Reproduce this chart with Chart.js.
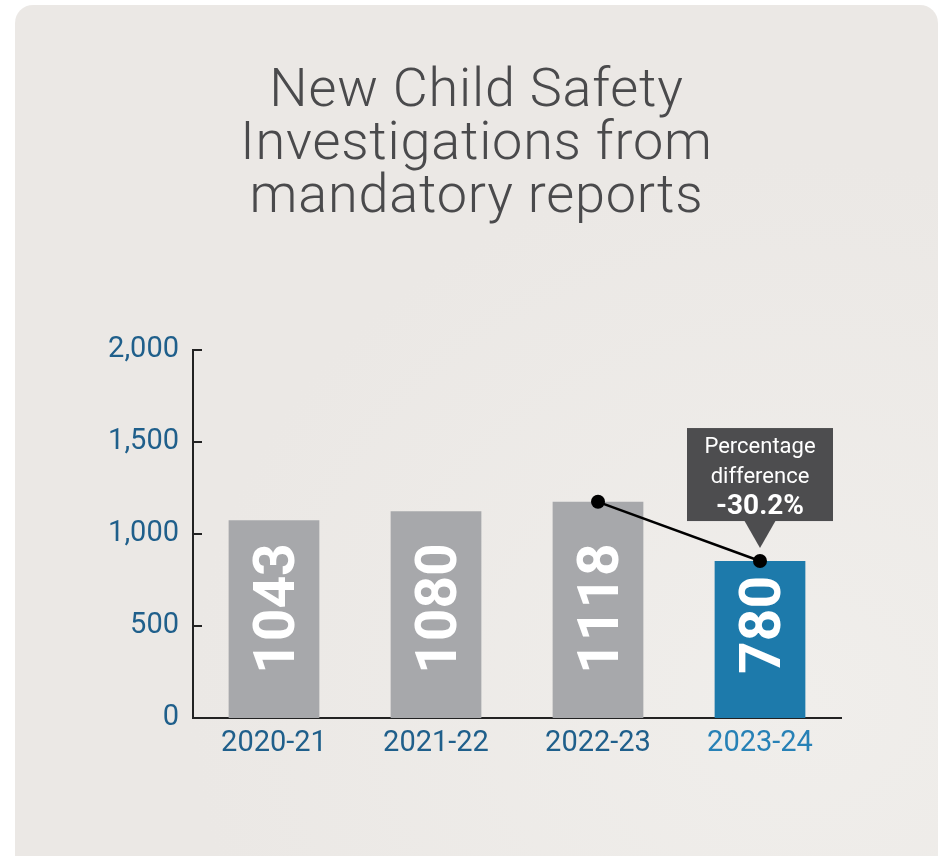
<!DOCTYPE html>
<html>
<head>
<meta charset="utf-8">
<script src="https://cdn.jsdelivr.net/npm/chart.js@4"></script>
<style>
  html, body { margin: 0; padding: 0; background: #ffffff; }
  #wrap { position: relative; width: 940px; height: 856px; overflow: hidden; }
  #panel {
    position: absolute; left: 15px; top: 5px; width: 923px; height: 870px;
    border-radius: 18px;
    background: radial-gradient(ellipse at 85% 80%, #f0eeeb 0%, #ebe8e5 55%);
  }
  #title {
    position: absolute; left: 15px; top: 61px; width: 923px;
    text-align: center; font-family: Roboto, sans-serif; font-weight: 300;
    font-size: 54px; line-height: 53px; color: #4a4a4c; letter-spacing: 0.8px;
  }
  #chart { position: absolute; left: 0; top: 0; }
</style>
</head>
<body>
<div id="wrap">
  <div id="panel"></div>
  <div id="title">New Child Safety<br>Investigations from<br>mandatory reports</div>
  <canvas id="chart" width="940" height="856"></canvas>
</div>
<script>
// chart values
var categories = ['2020-21', '2021-22', '2022-23', '2023-24'];
var barHeights = [1075, 1124, 1175, 853];      // heights as drawn in the picture
var barLabels = ['1043', '1080', '1118', '780']; // numbers printed on the bars
var changeLine = [null, null, 1175, 853];
var calloutLines = ['Percentage', 'difference', '-30.2%'];
var yMax = 2000;
var yStep = 500;

var grey = '#a7a8ab';
var blue = '#1d7aab';
var axisBlue = '#1f5f8b';

// white numbers written up the bars
var barLabelPlugin = {
    id: 'barLabels',
    afterDatasetsDraw: function (chart) {
        var ctx = chart.ctx;
        var meta = chart.getDatasetMeta(0);
        ctx.save();
        ctx.fillStyle = '#ffffff';
        ctx.font = 'bold 57px Roboto, sans-serif';
        ctx.textAlign = 'left';
        ctx.textBaseline = 'alphabetic';
        meta.data.forEach(function (bar, i) {
            ctx.save();
            ctx.translate(bar.x + 20, bar.base - 44);
            ctx.rotate(-Math.PI / 2);
            ctx.fillText(barLabels[i], 0, 0);
            ctx.restore();
        });
        ctx.restore();
    }
};

// inward tick marks on the y axis
var yTickPlugin = {
    id: 'yTicks',
    afterDraw: function (chart) {
        var ctx = chart.ctx;
        var y = chart.scales.y;
        ctx.save();
        ctx.strokeStyle = '#222222';
        ctx.lineWidth = 2;
        y.ticks.forEach(function (t) {
            var py = Math.round(y.getPixelForValue(t.value));
            ctx.beginPath();
            ctx.moveTo(y.right, py);
            ctx.lineTo(y.right + 9, py);
            ctx.stroke();
        });
        ctx.restore();
    }
};

// dark callout box above the last point
var calloutPlugin = {
    id: 'callout',
    afterDraw: function (chart) {
        var ctx = chart.ctx;
        var pt = chart.getDatasetMeta(1).data[3];
        var cx = pt.x;
        var tipY = pt.y - 13;
        var boxBottom = tipY - 27;
        var boxTop = boxBottom - 93;
        var w = 146;
        ctx.save();
        ctx.fillStyle = '#4d4d4f';
        ctx.fillRect(cx - w / 2, boxTop, w, boxBottom - boxTop);
        ctx.beginPath();
        ctx.moveTo(cx - 16, boxBottom - 1);
        ctx.lineTo(cx + 16, boxBottom - 1);
        ctx.lineTo(cx, tipY);
        ctx.closePath();
        ctx.fill();
        ctx.fillStyle = '#ffffff';
        ctx.textAlign = 'center';
        ctx.textBaseline = 'alphabetic';
        ctx.font = '22px Roboto, sans-serif';
        ctx.fillText(calloutLines[0], cx, boxTop + 25);
        ctx.fillText(calloutLines[1], cx, boxTop + 55);
        ctx.font = 'bold 28px Roboto, sans-serif';
        ctx.fillText(calloutLines[2], cx, boxTop + 86);
        ctx.restore();
    }
};

var ctx = document.getElementById('chart').getContext('2d');
var myChart = new Chart(ctx, {
    type: 'bar',
    data: {
        labels: categories,
        datasets: [{
            type: 'bar',
            data: barHeights,
            backgroundColor: [grey, grey, grey, blue],
            barPercentage: 0.56,
            categoryPercentage: 1.0,
            order: 1
        }, {
            type: 'line',
            data: changeLine,
            borderColor: '#000000',
            borderWidth: 2.5,
            pointRadius: 7,
            pointBackgroundColor: '#000000',
            pointBorderWidth: 0,
            spanGaps: false,
            order: 0
        }]
    },
    options: {
        responsive: false,
        animation: false,
        layout: {
            padding: { left: 0, right: 99, top: 350, bottom: 80 }
        },
        plugins: {
            legend: { display: false },
            tooltip: { enabled: false }
        },
        scales: {
            x: {
                grid: { display: false, drawTicks: false },
                border: { display: true, color: '#222222', width: 2 },
                ticks: {
                    padding: 8,
                    color: [axisBlue, axisBlue, axisBlue, '#2781b6'],
                    font: { family: 'Roboto, sans-serif', size: 29 }
                },
                afterFit: function (scale) { scale.height = 58; }
            },
            y: {
                min: 0,
                max: yMax,
                grid: { display: false, drawTicks: false },
                border: { display: true, color: '#222222', width: 2 },
                ticks: {
                    stepSize: yStep,
                    padding: 14,
                    color: axisBlue,
                    font: { family: 'Roboto, sans-serif', size: 29 }
                },
                afterFit: function (scale) { scale.width = 193; }
            }
        }
    },
    plugins: [barLabelPlugin, yTickPlugin, calloutPlugin]
});
</script>
</body>
</html>
